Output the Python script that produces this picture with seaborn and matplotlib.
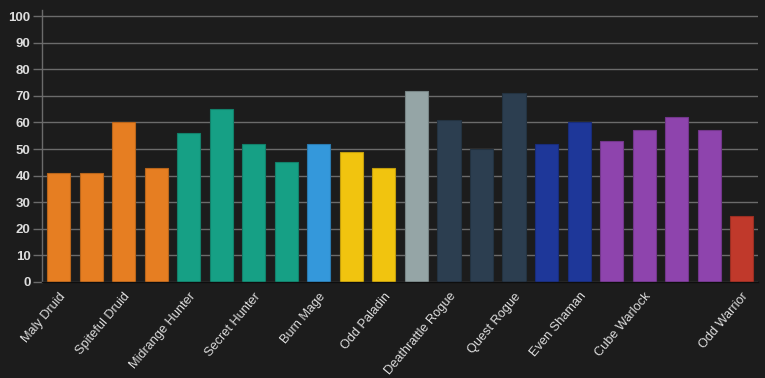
import matplotlib
matplotlib.use("Agg")
import matplotlib.pyplot as plt
import seaborn as sns
import pandas as pd
import numpy as np
from matplotlib.colors import to_rgb

# Tick labels (only every other bar is labelled in the original chart)
labels = ["Maly Druid", "", "Spiteful Druid", "", "Midrange Hunter", "",
          "Secret Hunter", "", "Burn Mage", "", "Odd Paladin", "",
          "Deathrattle Rogue", "", "Quest Rogue", "", "Even Shaman", "",
          "Cube Warlock", "", "", "Odd Warrior"]
values = [41, 41, 60, 43, 56, 65, 52, 45, 52, 49, 43, 72,
          61, 50, 71, 52, 60, 53, 57, 62, 57, 25]
colors = ["#e67e22", "#e67e22", "#e67e22", "#e67e22",
          "#16a085", "#16a085", "#16a085", "#16a085",
          "#3498db", "#f1c40f", "#f1c40f",
          "#95a5a6", "#2c3e50", "#2c3e50", "#2c3e50",
          "#1e3799", "#1e3799",
          "#8e44ad", "#8e44ad", "#8e44ad", "#8e44ad",
          "#c0392b"]
y_ticks = list(range(0, 101, 10))

bg = "#1c1c1c"
sns.set_theme(style="dark")
plt.rcParams["font.family"] = ["Liberation Sans", "DejaVu Sans"]

df = pd.DataFrame({"idx": list(range(len(values))), "value": values})

fig = plt.figure(figsize=(7.65, 3.78), dpi=100, facecolor=bg)
ax = fig.add_axes([0.0553, 0.254, 0.9356, 0.7195])
ax.set_facecolor(bg)

sns.barplot(data=df, x="idx", y="value", hue="idx", palette=colors,
            legend=False, width=0.71, ax=ax, saturation=1)

for patch, c in zip(ax.patches, colors):
    r, g, b = to_rgb(c)
    patch.set_edgecolor((r * 0.8, g * 0.8, b * 0.8))
    patch.set_linewidth(0.8)

ax.set_xlim(-0.5, len(values) - 0.5)
ax.set_ylim(0, 102.3)
ax.set_yticks(y_ticks)
ax.set_yticklabels([str(t) for t in y_ticks], fontsize=9.5, fontweight="bold",
                   color="#dddddd")
ax.set_xticks(range(len(values)))
ax.set_xticklabels(labels, rotation=50, ha="right", rotation_mode="anchor",
                   fontsize=9.2, color="#dddddd")
ax.set_xlabel("")
ax.set_ylabel("")

ax.grid(axis="y", color="#6b6b6b", linewidth=1)
ax.grid(axis="x", visible=False)
ax.set_axisbelow(True)
ax.tick_params(axis="y", length=6.5, color="#6b6b6b", width=1, pad=2, left=True)
ax.tick_params(axis="x", length=0, pad=6)

for s in ["top", "right"]:
    ax.spines[s].set_visible(False)
ax.spines["left"].set_visible(True)
ax.spines["left"].set_color("#6b6b6b")
ax.spines["left"].set_linewidth(1)
ax.spines["bottom"].set_visible(True)
ax.spines["bottom"].set_color("#0e0e0e")
ax.spines["bottom"].set_linewidth(1)

fig.savefig("out.png", dpi=100, facecolor=bg)
